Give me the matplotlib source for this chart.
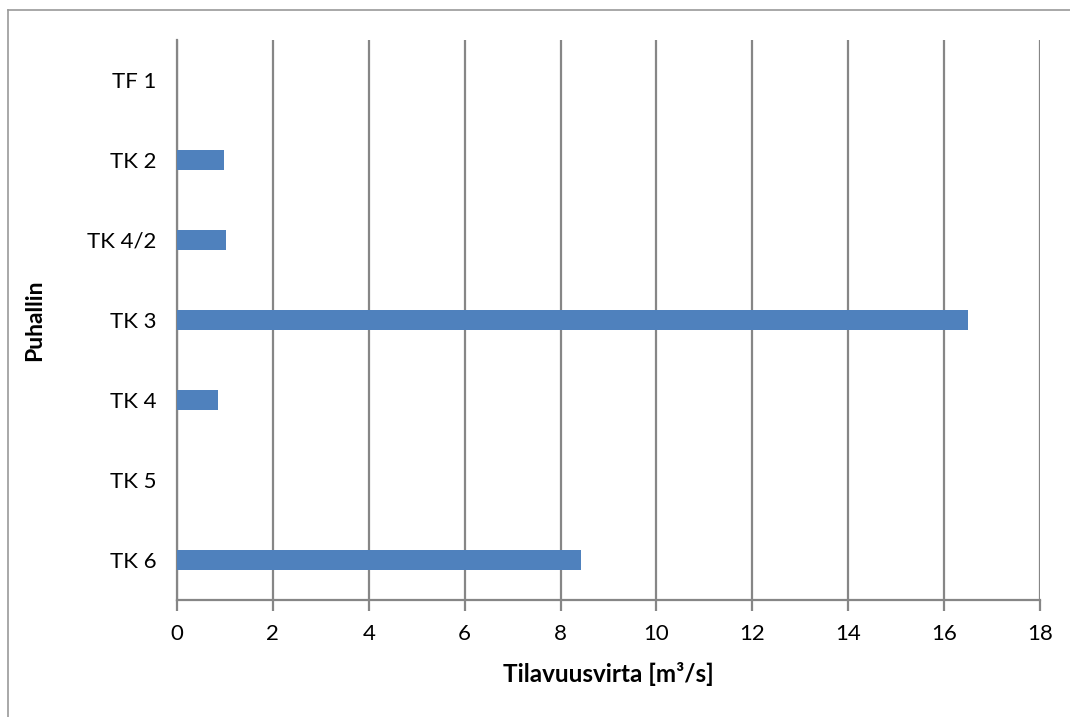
import matplotlib
matplotlib.use("Agg")
import matplotlib.pyplot as plt
from matplotlib.lines import Line2D

plt.rcParams['font.family'] = ['Lato', 'DejaVu Sans']

categories = ["TF 1", "TK 2", "TK 4/2", "TK 3", "TK 4", "TK 5", "TK 6"]
flows = [0.0, 0.985, 1.03, 16.49, 0.845, 0.0, 8.43]
x_ticks = [0, 2, 4, 6, 8, 10, 12, 14, 16, 18]

bar_color = "#4f81bd"
grid_color = "#868686"

fig = plt.figure(figsize=(10.70, 7.17), dpi=100)
ax = fig.add_axes([177 / 1070, 1 - 600 / 717, (1040 - 177) / 1070, 560 / 717])

ypos = list(range(len(categories)))[::-1]
ax.barh(ypos, flows, height=0.25, color=bar_color, zorder=3)

ax.set_xlim(0, 18)
ax.set_ylim(-0.5, len(categories) - 0.5)
ax.set_xticks(x_ticks)
ax.set_xticklabels([str(t) for t in x_ticks], fontsize=16)
ax.set_yticks(ypos)
ax.set_yticklabels(categories, fontsize=16)

ax.grid(axis="x", color=grid_color, linewidth=1.6, zorder=0)
for side in ("top", "right"):
    ax.spines[side].set_visible(False)
for side in ("left", "bottom"):
    ax.spines[side].set_color(grid_color)
    ax.spines[side].set_linewidth(1.6)
ax.tick_params(axis="x", length=8, width=1.6, color=grid_color, pad=9)
ax.tick_params(axis="y", length=0, pad=15)

ax.set_xlabel("Tilavuusvirta [m³/s]", fontsize=17.5, fontweight="bold", labelpad=13)
ax.set_ylabel("Puhallin", fontsize=16.5, fontweight="bold", labelpad=30)

# chart area frame (top and left edges)
fig.add_artist(Line2D([8 / 1070, 1.0], [1 - 10 / 717, 1 - 10 / 717],
                      transform=fig.transFigure, color="#9a9a9a", linewidth=1.2))
fig.add_artist(Line2D([8 / 1070, 8 / 1070], [0.0, 1 - 10 / 717],
                      transform=fig.transFigure, color="#9a9a9a", linewidth=1.2))

fig.savefig("out.png", dpi=100)
